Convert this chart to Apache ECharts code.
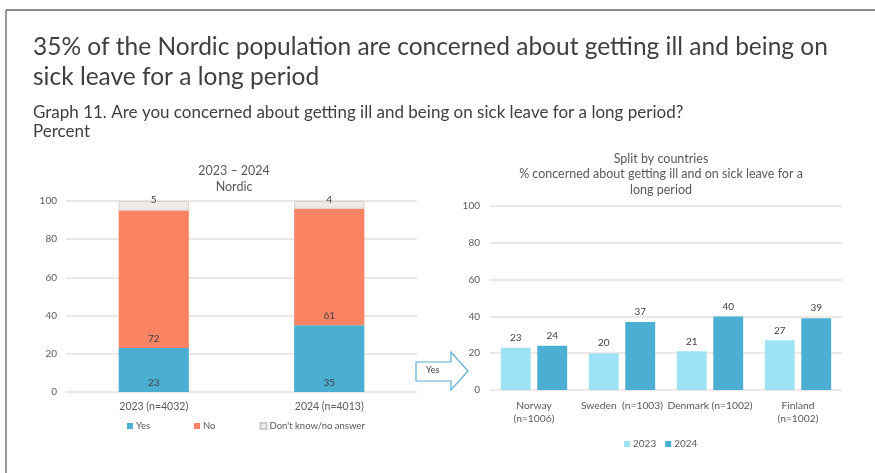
<!DOCTYPE html>
<html><head><meta charset="utf-8">
<script src="https://cdn.jsdelivr.net/npm/echarts@6/dist/echarts.min.js"></script>
<style>html,body{margin:0;padding:0;background:#fff}#c{width:875px;height:473px}</style>
</head><body><div id="c"></div>
<script>
// Left chart: Nordic totals
const nordicCats = ['2023 (n=4032)', '2024 (n=4013)'];
const yesVals = [23, 35];
const noVals = [72, 61];
const dkVals = [5, 4];
// Right chart: split by countries
const countryCats = ['Norway\n(n=1006)', 'Sweden  (n=1003)', 'Denmark (n=1002)', 'Finland\n(n=1002)'];
const vals2023 = [23, 20, 21, 27];
const vals2024 = [24, 37, 40, 39];
const yTicks = [0, 20, 40, 60, 80, 100];

const FONT = 'Lato';
const txt = '#595959';
const grid = '#e8dfdb';
const chart = echarts.init(document.getElementById('c'), null, {renderer: 'canvas'});
const lbl = {color: '#404040', fontSize: 10, fontFamily: FONT};
chart.setOption({
  animation: false,
  textStyle: {fontFamily: FONT},
  title: [
    {text: '2023 – 2024\nNordic', left: 229, top: 158, textAlign: 'center',
     textStyle: {fontSize: 12.5, fontWeight: 'normal', color: txt, lineHeight: 16, fontFamily: FONT}},
    {text: 'Split by countries\n% concerned about getting ill and on sick leave for a\nlong period', left: 656, top: 146, textAlign: 'center',
     textStyle: {fontSize: 12.5, fontWeight: 'normal', color: txt, lineHeight: 15.5, fontFamily: FONT}}
  ],
  grid: [
    {left: 66, right: 458, top: 201, bottom: 81},
    {left: 490, right: 33, top: 206, bottom: 83}
  ],
  legend: [
    {data: ['Yes', 'No', "Don't know/no answer"], left: 122, top: 416, itemWidth: 6, itemHeight: 6, itemGap: 44,
     icon: 'rect', textStyle: {fontSize: 9.5, color: txt, padding: [0, 0, 0, -2], fontFamily: FONT}},
    {data: ['2023', '2024'], left: 619, top: 434, itemWidth: 6, itemHeight: 6, itemGap: 9,
     icon: 'rect', textStyle: {fontSize: 10, color: txt, padding: [0, 0, 0, -2], fontFamily: FONT}}
  ],
  xAxis: [
    {type: 'category', gridIndex: 0, data: nordicCats, axisLine: {show: false}, axisTick: {show: false},
     axisLabel: {color: txt, fontSize: 10.5, margin: 9, fontFamily: FONT}},
    {type: 'category', gridIndex: 1, data: countryCats, axisLine: {show: false}, axisTick: {show: false},
     axisLabel: {color: txt, fontSize: 10.3, margin: 9, lineHeight: 13, interval: 0, fontFamily: FONT}}
  ],
  yAxis: [
    {type: 'value', gridIndex: 0, min: yTicks[0], max: yTicks[yTicks.length - 1], interval: 20,
     axisLabel: {color: txt, fontSize: 10, margin: 9, fontFamily: FONT},
     splitLine: {lineStyle: {color: grid, width: 1.5}}},
    {type: 'value', gridIndex: 1, min: yTicks[0], max: yTicks[yTicks.length - 1], interval: 20,
     axisLabel: {color: txt, fontSize: 10, margin: 10, fontFamily: FONT},
     splitLine: {lineStyle: {color: grid, width: 1.5}}}
  ],
  series: [
    {name: 'Yes', type: 'bar', stack: 'n', xAxisIndex: 0, yAxisIndex: 0, data: yesVals, barWidth: '40%',
     itemStyle: {color: '#4baed3'}, label: {show: true, position: 'insideBottom', distance: 4, ...lbl}},
    {name: 'No', type: 'bar', stack: 'n', xAxisIndex: 0, yAxisIndex: 0, data: noVals,
     itemStyle: {color: '#fc8363'}, label: {show: true, position: 'insideBottom', distance: 4, ...lbl}},
    {name: "Don't know/no answer", type: 'bar', stack: 'n', xAxisIndex: 0, yAxisIndex: 0, data: dkVals,
     itemStyle: {color: '#efebe8', borderColor: '#cfcac6', borderWidth: 0.8},
     label: {show: true, position: 'insideTop', distance: -6, ...lbl}},
    {name: '2023', type: 'bar', xAxisIndex: 1, yAxisIndex: 1, data: vals2023, barWidth: '34%', barGap: '22%',
     itemStyle: {color: '#9de2f5'}, label: {show: true, position: 'top', distance: 5, ...lbl}},
    {name: '2024', type: 'bar', xAxisIndex: 1, yAxisIndex: 1, data: vals2024, barWidth: '34%', barGap: '22%',
     itemStyle: {color: '#4baed3'}, label: {show: true, position: 'top', distance: 5, ...lbl}}
  ],
  graphic: [
    {type: 'line', shape: {x1: 6, y1: 10, x2: 875, y2: 10}, style: {stroke: '#111', lineWidth: 1.2}},
    {type: 'line', shape: {x1: 6, y1: 10, x2: 6, y2: 473}, style: {stroke: '#777', lineWidth: 1.5}},
    {type: 'text', left: 33, top: 32, style: {text: '35% of the Nordic population are concerned about getting ill and being on\nsick leave for a long period',
      font: '24.5px Lato', fill: '#404040', lineHeight: 30}},
    {type: 'text', left: 33, top: 103, style: {text: 'Graph 11. Are you concerned about getting ill and being on sick leave for a long period?\nPercent',
      font: '17px Lato', fill: '#404040', lineHeight: 19}},
    {type: 'polygon', shape: {points: [[416, 362], [451, 362], [451, 352], [468, 371], [451, 390], [451, 381], [416, 381]]},
     style: {fill: '#fff', stroke: '#5aaed2', lineWidth: 1.2}},
    {type: 'text', left: 426, top: 366, style: {text: 'Yes', font: '9px Lato', fill: '#404040'}}
  ]
});
</script></body></html>
